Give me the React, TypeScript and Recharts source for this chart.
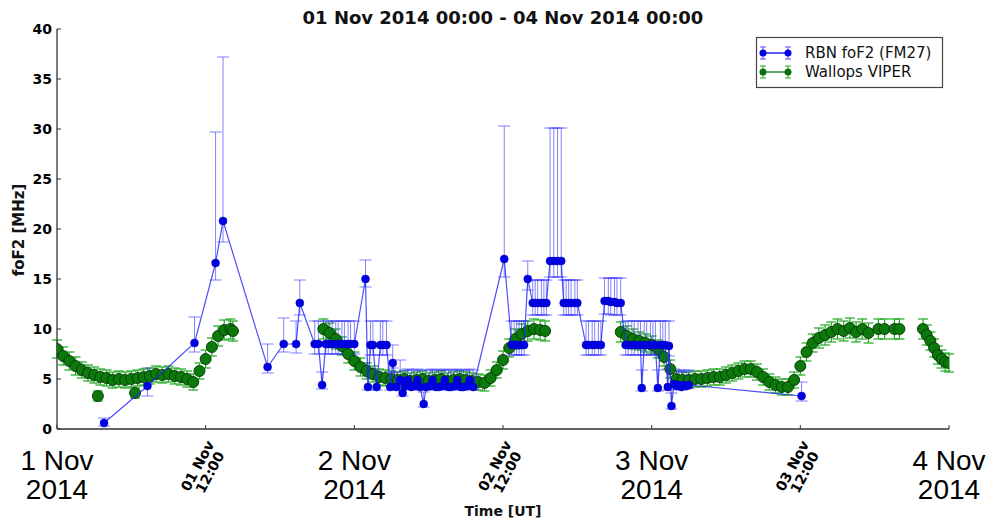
import React from 'react';
import { ComposedChart, Scatter, XAxis, YAxis, ErrorBar } from 'recharts';

// ---- tick labels ----
const xTickHours = [0, 12, 24, 36, 48, 60, 72];
const xTickLine1 = ['1 Nov', '01 Nov', '2 Nov', '02 Nov', '3 Nov', '03 Nov', '4 Nov'];
const xTickLine2 = ['2014', '12:00', '2014', '12:00', '2014', '12:00', '2014'];
const yTicks = [0, 5, 10, 15, 20, 25, 30, 35, 40];

// ---- RBN foF2 (FM27): hours since 01 Nov 2014 00:00 UT ----
const rbnHours = [
  3.8, 7.3, 11.1, 12.8, 13.4, 17.0, 18.3, 19.3, 19.6,
  20.8, 21.1, 21.4, 21.7, 21.9, 22.2, 22.5, 22.7, 23.0, 23.2, 23.5, 23.7, 24.0,
  24.9, 25.1, 25.3, 25.5, 25.8, 26.1, 26.3, 26.6, 26.9, 27.1, 27.4, 27.7, 27.9,
  28.1, 28.3, 28.6, 28.8, 29.1, 29.3, 29.6, 29.8, 30.1, 30.3, 30.6, 30.8,
  31.1, 31.3, 31.6, 31.8, 32.1, 32.3, 32.6, 32.8, 33.1, 33.3, 33.6,
  36.1, 36.7, 36.9, 37.1, 37.3, 37.5, 37.7, 38.0,
  38.4, 38.6, 38.8, 39.1, 39.3, 39.5, 39.8, 40.1, 40.4, 40.7,
  40.9, 41.1, 41.3, 41.5, 41.8, 42.0, 42.7, 42.9, 43.2, 43.4, 43.7, 43.9,
  44.2, 44.5, 44.7, 45.0, 45.2, 45.5,
  45.9, 46.1, 46.4, 46.6, 46.9, 47.1, 47.2, 47.4, 47.6, 47.9, 48.1, 48.3, 48.5,
  48.7, 48.9, 49.1, 49.3, 49.4, 49.6,
  49.8, 50.0, 50.2, 50.4, 50.6, 50.8, 51.0, 60.1,
];
const rbnFoF2 = [
  0.6, 4.3, 8.6, 16.6, 20.8, 6.2, 8.5, 8.5, 12.6,
  8.5, 8.5, 4.4, 8.5, 8.5, 8.5, 8.5, 8.5, 8.5, 8.5, 8.5, 8.5, 8.5,
  15.0, 4.2, 8.4, 8.4, 4.2, 8.4, 8.4, 8.4, 4.2, 6.6, 4.2, 4.9, 3.6,
  4.3, 4.9, 4.2, 4.3, 4.9, 4.2, 2.5, 4.2, 4.3, 4.9, 4.2, 4.2,
  4.3, 4.9, 4.2, 4.2, 4.3, 4.9, 4.2, 4.2, 4.3, 4.9, 4.2,
  17.0, 8.4, 8.4, 8.4, 8.4, 8.4, 8.4, 15.0,
  12.6, 12.6, 12.6, 12.6, 12.6, 12.6, 16.8, 16.8, 16.8, 16.8,
  12.6, 12.6, 12.6, 12.6, 12.6, 12.6, 8.4, 8.4, 8.4, 8.4, 8.4, 8.4,
  12.8, 12.8, 12.7, 12.7, 12.6, 12.6,
  8.4, 8.4, 8.4, 8.4, 8.4, 8.4, 4.1, 8.4, 8.4, 8.4, 8.4, 8.4, 4.1,
  8.4, 8.4, 8.4, 4.2, 8.3, 2.3,
  4.5, 4.3, 4.4, 4.2, 4.4, 4.3, 4.4, 3.3,
];
const rbnErrLow = [
  0.3, 1.0, 0.9, 1.7, 2.1, 0.6, 0.8, 0.9, 1.2,
  1.0, 1.0, 0.4, 1.0, 1.0, 1.0, 1.0, 1.0, 1.0, 1.0, 1.0, 1.0, 1.0,
  0.8, 0.3, 1.0, 1.0, 0.3, 1.0, 1.0, 1.0, 0.3, 0.5, 0.3, 0.5, 0.3,
  0.3, 0.5, 0.3, 0.3, 0.5, 0.3, 0.3, 0.3, 0.3, 0.5, 0.3, 0.3,
  0.3, 0.5, 0.3, 0.3, 0.3, 0.5, 0.3, 0.3, 0.3, 0.5, 0.3,
  1.8, 1.0, 1.0, 1.0, 1.0, 1.0, 1.0, 1.1,
  1.2, 1.2, 1.2, 1.2, 1.2, 1.2, 1.6, 1.6, 1.6, 1.6,
  1.2, 1.2, 1.2, 1.2, 1.2, 1.2, 1.0, 1.0, 1.0, 1.0, 1.0, 1.0,
  1.3, 1.3, 1.3, 1.3, 1.2, 1.2,
  1.0, 1.0, 1.0, 1.0, 1.0, 1.0, 0.3, 1.0, 1.0, 1.0, 1.0, 1.0, 0.3,
  1.0, 1.0, 1.0, 0.3, 1.0, 0.3,
  0.3, 0.3, 0.3, 0.3, 0.3, 0.3, 0.3, 0.5,
];
const rbnErrHigh = [
  0.5, 1.8, 2.6, 13.1, 16.4, 2.3, 2.6, 2.3, 2.3,
  2.3, 2.3, 1.3, 2.3, 2.3, 2.3, 2.3, 2.3, 2.3, 2.3, 2.3, 2.3, 2.3,
  1.9, 1.5, 2.4, 2.4, 1.5, 2.4, 2.4, 2.4, 1.5, 1.8, 1.5, 2.0, 0.8,
  1.6, 1.1, 1.7, 1.6, 1.1, 1.7, 1.2, 1.7, 1.6, 1.1, 1.7, 1.7,
  1.6, 1.1, 1.7, 1.7, 1.6, 1.1, 1.7, 1.7, 1.6, 1.1, 1.7,
  13.3, 2.4, 2.4, 2.4, 2.4, 2.4, 2.4, 1.8,
  2.3, 2.3, 2.3, 2.3, 2.3, 2.3, 13.3, 13.3, 13.3, 13.3,
  2.3, 2.3, 2.3, 2.3, 2.3, 2.3, 2.4, 2.4, 2.4, 2.4, 2.4, 2.4,
  2.3, 2.3, 2.4, 2.4, 2.5, 2.5,
  2.4, 2.4, 2.4, 2.4, 2.4, 2.4, 1.8, 2.4, 2.4, 2.4, 2.4, 2.4, 1.8,
  2.4, 2.4, 2.4, 1.8, 2.5, 1.3,
  1.5, 1.5, 1.5, 1.5, 1.5, 1.5, 1.5, 1.4,
];

// ---- Wallops VIPER: hours since 01 Nov 2014 00:00 UT ----
const viperHours = [
  0, 0.5, 1, 1.5, 2, 2.5, 3, 3.3, 3.5, 4, 4.5, 5, 5.5, 6, 6.3, 6.5, 7, 7.5, 8, 8.5,
  9, 9.5, 10, 10.5, 11, 11.5, 12, 12.5, 13, 13.5, 14, 14.2,
  21.5, 22, 22.5, 23, 23.5, 24, 24.5, 25, 25.5, 26, 26.5, 27, 27.5, 28, 28.5, 29, 29.5,
  30, 30.5, 31, 31.5, 32, 32.5, 33, 33.5, 34, 34.5, 35, 35.5, 36, 36.5, 37, 37.5, 38,
  38.5, 39, 39.4,
  45.5, 46, 46.5, 47, 47.5, 48, 48.5, 49, 49.5, 50, 50.5, 51, 51.5, 52, 52.5, 53, 53.5,
  54, 54.5, 55, 55.5, 56, 56.5, 57, 57.5, 58, 58.5, 59, 59.5, 60, 60.5, 61, 61.5, 62,
  62.5, 63, 63.5, 64, 64.5, 65, 65.5, 66.3, 66.8, 67.6, 68.0,
  69.9, 70.2, 70.5, 70.8, 71.1, 71.4, 71.7, 72,
];
const viperFoF2 = [
  8.0, 7.3, 6.8, 6.3, 5.9, 5.6, 5.4, 3.3, 5.2, 5.1, 4.9, 5.0, 4.9, 5.0, 3.6, 5.1, 5.2, 5.3, 5.5, 5.4,
  5.5, 5.3, 5.2, 5.0, 4.7, 5.8, 7.0, 8.2, 9.3, 9.9, 10.0, 9.8,
  10.0, 9.6, 9.0, 8.3, 7.5, 6.8, 6.2, 5.8, 5.5, 5.2, 5.1, 5.0, 4.9, 5.0, 4.8, 4.9, 5.0,
  4.8, 4.9, 5.0, 4.8, 4.9, 5.0, 4.9, 4.8, 4.7, 4.6, 5.1, 5.9, 6.9, 8.1, 9.0, 9.5, 9.8,
  10.0, 9.9, 9.8,
  9.7, 9.3, 9.0, 8.8, 8.6, 8.4, 8.0, 7.2, 6.0, 5.0, 4.9, 4.9, 5.0, 5.0, 5.1, 5.2, 5.2,
  5.4, 5.6, 5.8, 6.0, 6.0, 5.7, 5.2, 4.7, 4.4, 4.2, 4.2, 4.9, 6.3, 7.7, 8.6, 9.1, 9.4,
  9.7, 10.0, 9.8, 10.1, 9.7, 10.0, 9.6, 10.0, 10.0, 10.0, 10.0,
  10.0, 9.4, 8.8, 8.1, 7.4, 7.0, 6.7, 6.6,
];
const viperErr = [
  0.9, 0.9, 0.9, 0.9, 0.8, 0.8, 0.8, 0.5, 0.8, 0.8, 0.8, 0.8, 0.8, 0.8, 0.5, 0.8, 0.8, 0.8, 0.8, 0.8,
  0.8, 0.8, 0.8, 0.8, 0.8, 0.8, 0.9, 0.9, 1.0, 1.0, 1.0, 1.0,
  1.0, 1.0, 1.0, 0.9, 0.9, 0.9, 0.9, 0.8, 0.8, 0.8, 0.8, 0.8, 0.8, 0.8, 0.8, 0.8, 0.8,
  0.8, 0.8, 0.8, 0.8, 0.8, 0.8, 0.8, 0.8, 0.8, 0.8, 0.8, 0.8, 0.9, 0.9, 1.0, 1.0, 1.0,
  1.0, 1.0, 1.0,
  1.0, 1.0, 1.0, 0.9, 0.9, 0.9, 0.9, 0.9, 0.9, 0.8, 0.8, 0.8, 0.8, 0.8, 0.8, 0.8, 0.8,
  0.8, 0.8, 0.8, 0.8, 0.8, 0.8, 0.8, 0.8, 0.8, 0.8, 0.8, 0.8, 0.9, 0.9, 0.9, 1.0, 1.0,
  1.0, 1.0, 1.0, 1.0, 1.0, 1.0, 1.0, 1.0, 1.0, 1.0, 1.0,
  1.0, 1.0, 0.9, 0.9, 0.9, 0.9, 0.9, 0.9,
];

const rbnData = rbnHours.map((h, i) => ({ h, v: rbnFoF2[i], err: [rbnErrLow[i], rbnErrHigh[i]] }));
const viperData = viperHours.map((h, i) => ({ h, v: viperFoF2[i], err: viperErr[i] }));

const FONT = "'DejaVu Sans', Verdana, sans-serif";
const ARIAL = "'Liberation Sans', Arial, sans-serif";
const AXIS = '#333';

function XTick(props: any) {
  const { x, y, payload } = props;
  const i = xTickHours.indexOf(payload.value);
  if (i < 0) return null;
  if (payload.value % 24 === 0) {
    return (
      <g>
        <text x={x} y={y + 41} textAnchor="middle" fontFamily={ARIAL} fontSize={28} fill="#000">{xTickLine1[i]}</text>
        <text x={x} y={y + 70} textAnchor="middle" fontFamily={ARIAL} fontSize={28} fill="#000">{xTickLine2[i]}</text>
      </g>
    );
  }
  return (
    <g transform={`translate(${x - 2},${y + 40}) rotate(-62)`}>
      <text x={0} y={-2} textAnchor="middle" fontFamily={FONT} fontWeight="bold" fontSize={14} fill="#000">{xTickLine1[i]}</text>
      <text x={0} y={12} textAnchor="middle" fontFamily={FONT} fontWeight="bold" fontSize={14} fill="#000">{xTickLine2[i]}</text>
    </g>
  );
}

function YTick(props: any) {
  const { x, y, payload } = props;
  return (
    <text x={x} y={y} dy="0.36em" textAnchor="end" fontFamily={FONT} fontWeight="bold" fontSize={14} fill="#000">
      {payload.value}
    </text>
  );
}

function NoTick() {
  return null;
}

function GreenDot(p: any) {
  return <circle cx={p.cx} cy={p.cy} r={5.5} fill="#0b7a0b" stroke="#053805" strokeWidth={0.9} />;
}

function BlueDot(p: any) {
  return <circle cx={p.cx} cy={p.cy} r={4} fill="#0000e6" stroke="#0000b0" strokeWidth={0.5} />;
}

function LegendIcon({ y, color, bar }: { y: number; color: string; bar: string }) {
  const xs = [763, 788];
  return (
    <g>
      <line x1={763} y1={y} x2={788} y2={y} stroke={color} strokeWidth={1.3} />
      {xs.map((x) => (
        <g key={x}>
          <line x1={x} y1={y - 6} x2={x} y2={y + 6} stroke={bar} strokeWidth={1} />
          <line x1={x - 3} y1={y - 6} x2={x + 3} y2={y - 6} stroke={bar} strokeWidth={1} />
          <line x1={x - 3} y1={y + 6} x2={x + 3} y2={y + 6} stroke={bar} strokeWidth={1} />
          <circle cx={x} cy={y} r={3.5} fill={color} />
        </g>
      ))}
    </g>
  );
}

export default function App() {
  return (
    <div style={{ position: 'absolute', left: 0, top: 0, width: 992, height: 520, background: '#fff' }}>
      <ComposedChart width={992} height={520} margin={{ top: 29, right: 43, bottom: 61, left: 17 }}>
        <XAxis
          xAxisId="b"
          type="number"
          dataKey="h"
          domain={[0, 72]}
          ticks={xTickHours}
          interval={0}
          allowDataOverflow
          height={30}
          tickSize={-4}
          tickMargin={4}
          tick={XTick}
          axisLine={{ stroke: AXIS, strokeWidth: 1.3 }}
          tickLine={{ stroke: AXIS }}
        />
        <XAxis
          xAxisId="t"
          orientation="top"
          type="number"
          dataKey="h"
          domain={[0, 72]}
          ticks={xTickHours}
          interval={0}
          allowDataOverflow
          height={0}
          tickSize={-4}
          tick={NoTick}
          axisLine={{ stroke: AXIS, strokeWidth: 1.3 }}
          tickLine={{ stroke: AXIS }}
        />
        <YAxis
          yAxisId="l"
          type="number"
          dataKey="v"
          domain={[0, 40]}
          ticks={yTicks}
          interval={0}
          allowDataOverflow
          width={40}
          tickSize={-4}
          tickMargin={9}
          tick={YTick}
          axisLine={{ stroke: AXIS, strokeWidth: 1.3 }}
          tickLine={{ stroke: AXIS }}
        />
        <YAxis
          yAxisId="r"
          orientation="right"
          type="number"
          dataKey="v"
          domain={[0, 40]}
          ticks={yTicks}
          interval={0}
          allowDataOverflow
          width={0}
          tickSize={-4}
          tick={NoTick}
          axisLine={{ stroke: AXIS, strokeWidth: 1.3 }}
          tickLine={{ stroke: AXIS }}
        />
        <Scatter
          name="Wallops VIPER"
          data={viperData}
          xAxisId="b"
          yAxisId="l"
          shape={GreenDot}
          isAnimationActive={false}
        >
          <ErrorBar dataKey="err" direction="y" width={5} stroke="#1ea81e" strokeWidth={1.2} />
        </Scatter>
        <Scatter
          name="RBN foF2 (FM27)"
          data={rbnData}
          xAxisId="b"
          yAxisId="l"
          shape={BlueDot}
          line={{ stroke: '#2020ff', strokeWidth: 1.2, strokeOpacity: 0.8 }}
          lineType="joint"
          isAnimationActive={false}
        >
          <ErrorBar dataKey="err" direction="y" width={6} stroke="#3030ff" strokeWidth={1} strokeOpacity={0.6} />
        </Scatter>
      </ComposedChart>
      <svg width={992} height={520} style={{ position: 'absolute', left: 0, top: 0, pointerEvents: 'none' }}>
        <text x={503} y={24} textAnchor="middle" fontFamily={FONT} fontWeight="bold" fontSize={18} fill="#111">
          01 Nov 2014 00:00 - 04 Nov 2014 00:00
        </text>
        <text x={503} y={516} textAnchor="middle" fontFamily={FONT} fontWeight="bold" fontSize={14} fill="#111">
          Time [UT]
        </text>
        <text transform="translate(24,230) rotate(-90)" textAnchor="middle" fontFamily={FONT} fontWeight="bold" fontSize={15} fill="#111">
          foF2 [MHz]
        </text>
        <rect x={756.5} y={37.5} width={186} height={50} fill="#fff" stroke="#444" strokeWidth={1.2} />
        <LegendIcon y={53} color="#0000e6" bar="#4a4aff" />
        <text x={805} y={58} fontFamily={FONT} fontSize={15} fill="#111">RBN foF2 (FM27)</text>
        <LegendIcon y={72} color="#0b700b" bar="#2aa02a" />
        <text x={805} y={77} fontFamily={FONT} fontSize={15} fill="#111">Wallops VIPER</text>
      </svg>
    </div>
  );
}
